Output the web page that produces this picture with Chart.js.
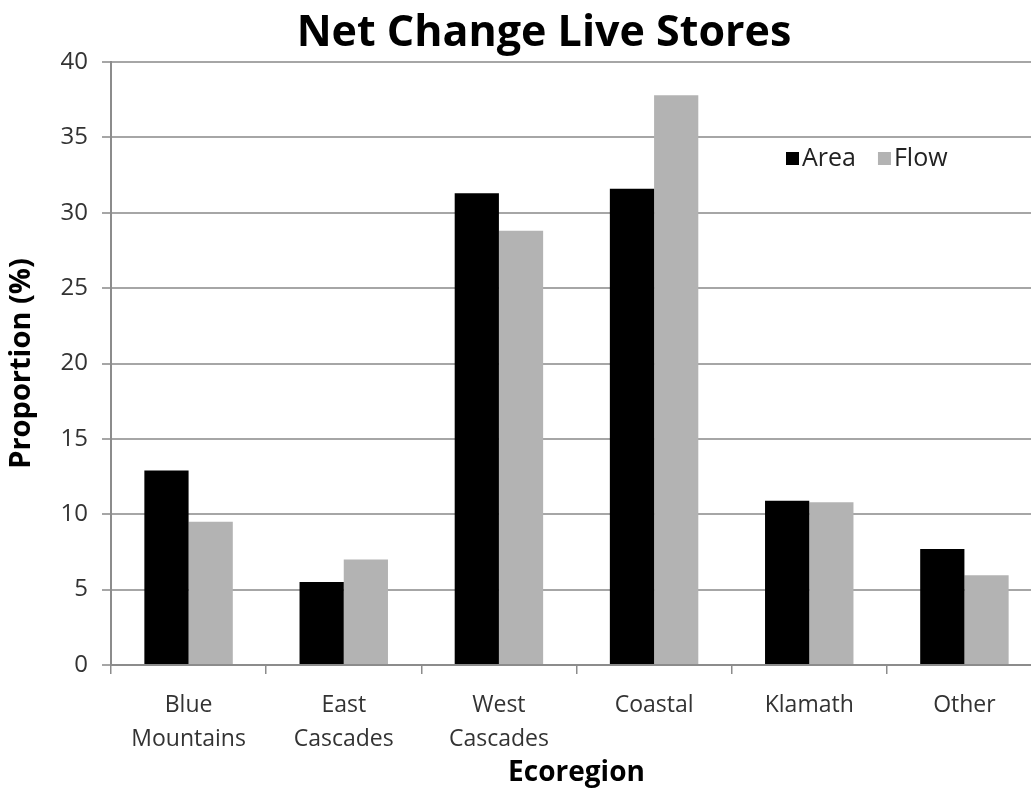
<!DOCTYPE html>
<html>
<head>
<meta charset="utf-8">
<script src="https://cdn.jsdelivr.net/npm/chart.js@4"></script>
<style>
  html, body { margin: 0; padding: 0; background: #fff; overflow: hidden; }
  #wrap { width: 1045px; height: 792px; }
</style>
</head>
<body>
<div id="wrap"><canvas id="liveStores"></canvas></div>
<script>
const categories = [["Blue", "Mountains"], ["East", "Cascades"], ["West", "Cascades"], "Coastal", "Klamath", "Other"];
const areaValues = [12.9, 5.5, 31.3, 31.6, 10.9, 7.7];
const flowValues = [9.5, 7.0, 28.8, 37.8, 10.8, 5.95];
const yTicks = [0, 5, 10, 15, 20, 25, 30, 35, 40];

const FONT = "'Open Sans', 'Noto Sans', sans-serif";

// title + in-plot legend drawn by hand so they sit where the original has them
const extras = {
  id: "extras",
  afterDraw(chart) {
    const ctx = chart.ctx;
    const area = chart.chartArea;
    ctx.save();
    ctx.fillStyle = "#000";
    ctx.font = "bold 43px " + FONT;
    ctx.textAlign = "center";
    ctx.textBaseline = "middle";
    ctx.fillText("Net Change Live Stores", 544, 34);

    // legend
    ctx.font = "25px " + FONT;
    ctx.textAlign = "left";
    let x = area.right - 256;
    const y = area.top + 96;
    chart.data.datasets.forEach(ds => {
      ctx.fillStyle = ds.backgroundColor;
      ctx.fillRect(x, y - 6, 13, 13);
      ctx.fillStyle = "#222";
      ctx.fillText(ds.label, x + 16, y + 1);
      x += 16 + ctx.measureText(ds.label).width + 22;
    });
    ctx.restore();
  }
};

new Chart(document.getElementById("liveStores"), {
  type: "bar",
  data: {
    labels: categories,
    datasets: [
      { label: "Area", data: areaValues, backgroundColor: "#000000", barPercentage: 1, categoryPercentage: 0.57 },
      { label: "Flow", data: flowValues, backgroundColor: "#b3b3b3", barPercentage: 1, categoryPercentage: 0.57 }
    ]
  },
  options: {
    responsive: true,
    maintainAspectRatio: false,
    animation: false,
    layout: { padding: { top: 62, right: 3, left: 0, bottom: 0 } },
    plugins: {
      legend: { display: false },
      title: { display: false },
      tooltip: { enabled: false }
    },
    scales: {
      x: {
        offset: true,
        grid: { offset: true, drawOnChartArea: false, color: "#8c8c8c", lineWidth: 1.5, tickLength: 9 },
        border: { color: "#8c8c8c", width: 2 },
        ticks: { color: "#333", font: { family: FONT, size: 23, lineHeight: 1.5 }, padding: 14, maxRotation: 0 },
        title: { display: true, text: "Ecoregion", color: "#000", font: { family: FONT, size: 28, weight: "bold" }, padding: { top: 0, bottom: 2 } },
        afterFit(scale) { scale.height = 127; }
      },
      y: {
        min: 0,
        max: 40,
        afterBuildTicks(scale) { scale.ticks = yTicks.map(v => ({ value: v })); },
        grid: { color: "#a6a6a6", lineWidth: 2, tickLength: 9 },
        border: { color: "#8c8c8c", width: 2 },
        ticks: { color: "#333", font: { family: FONT, size: 24 }, padding: 14 },
        title: { display: true, text: "Proportion (%)", color: "#000", font: { family: FONT, size: 29, weight: "bold" }, padding: { bottom: 2 } },
        afterFit(scale) { scale.width = 111; }
      }
    }
  },
  plugins: [extras]
});
</script>
</body>
</html>
